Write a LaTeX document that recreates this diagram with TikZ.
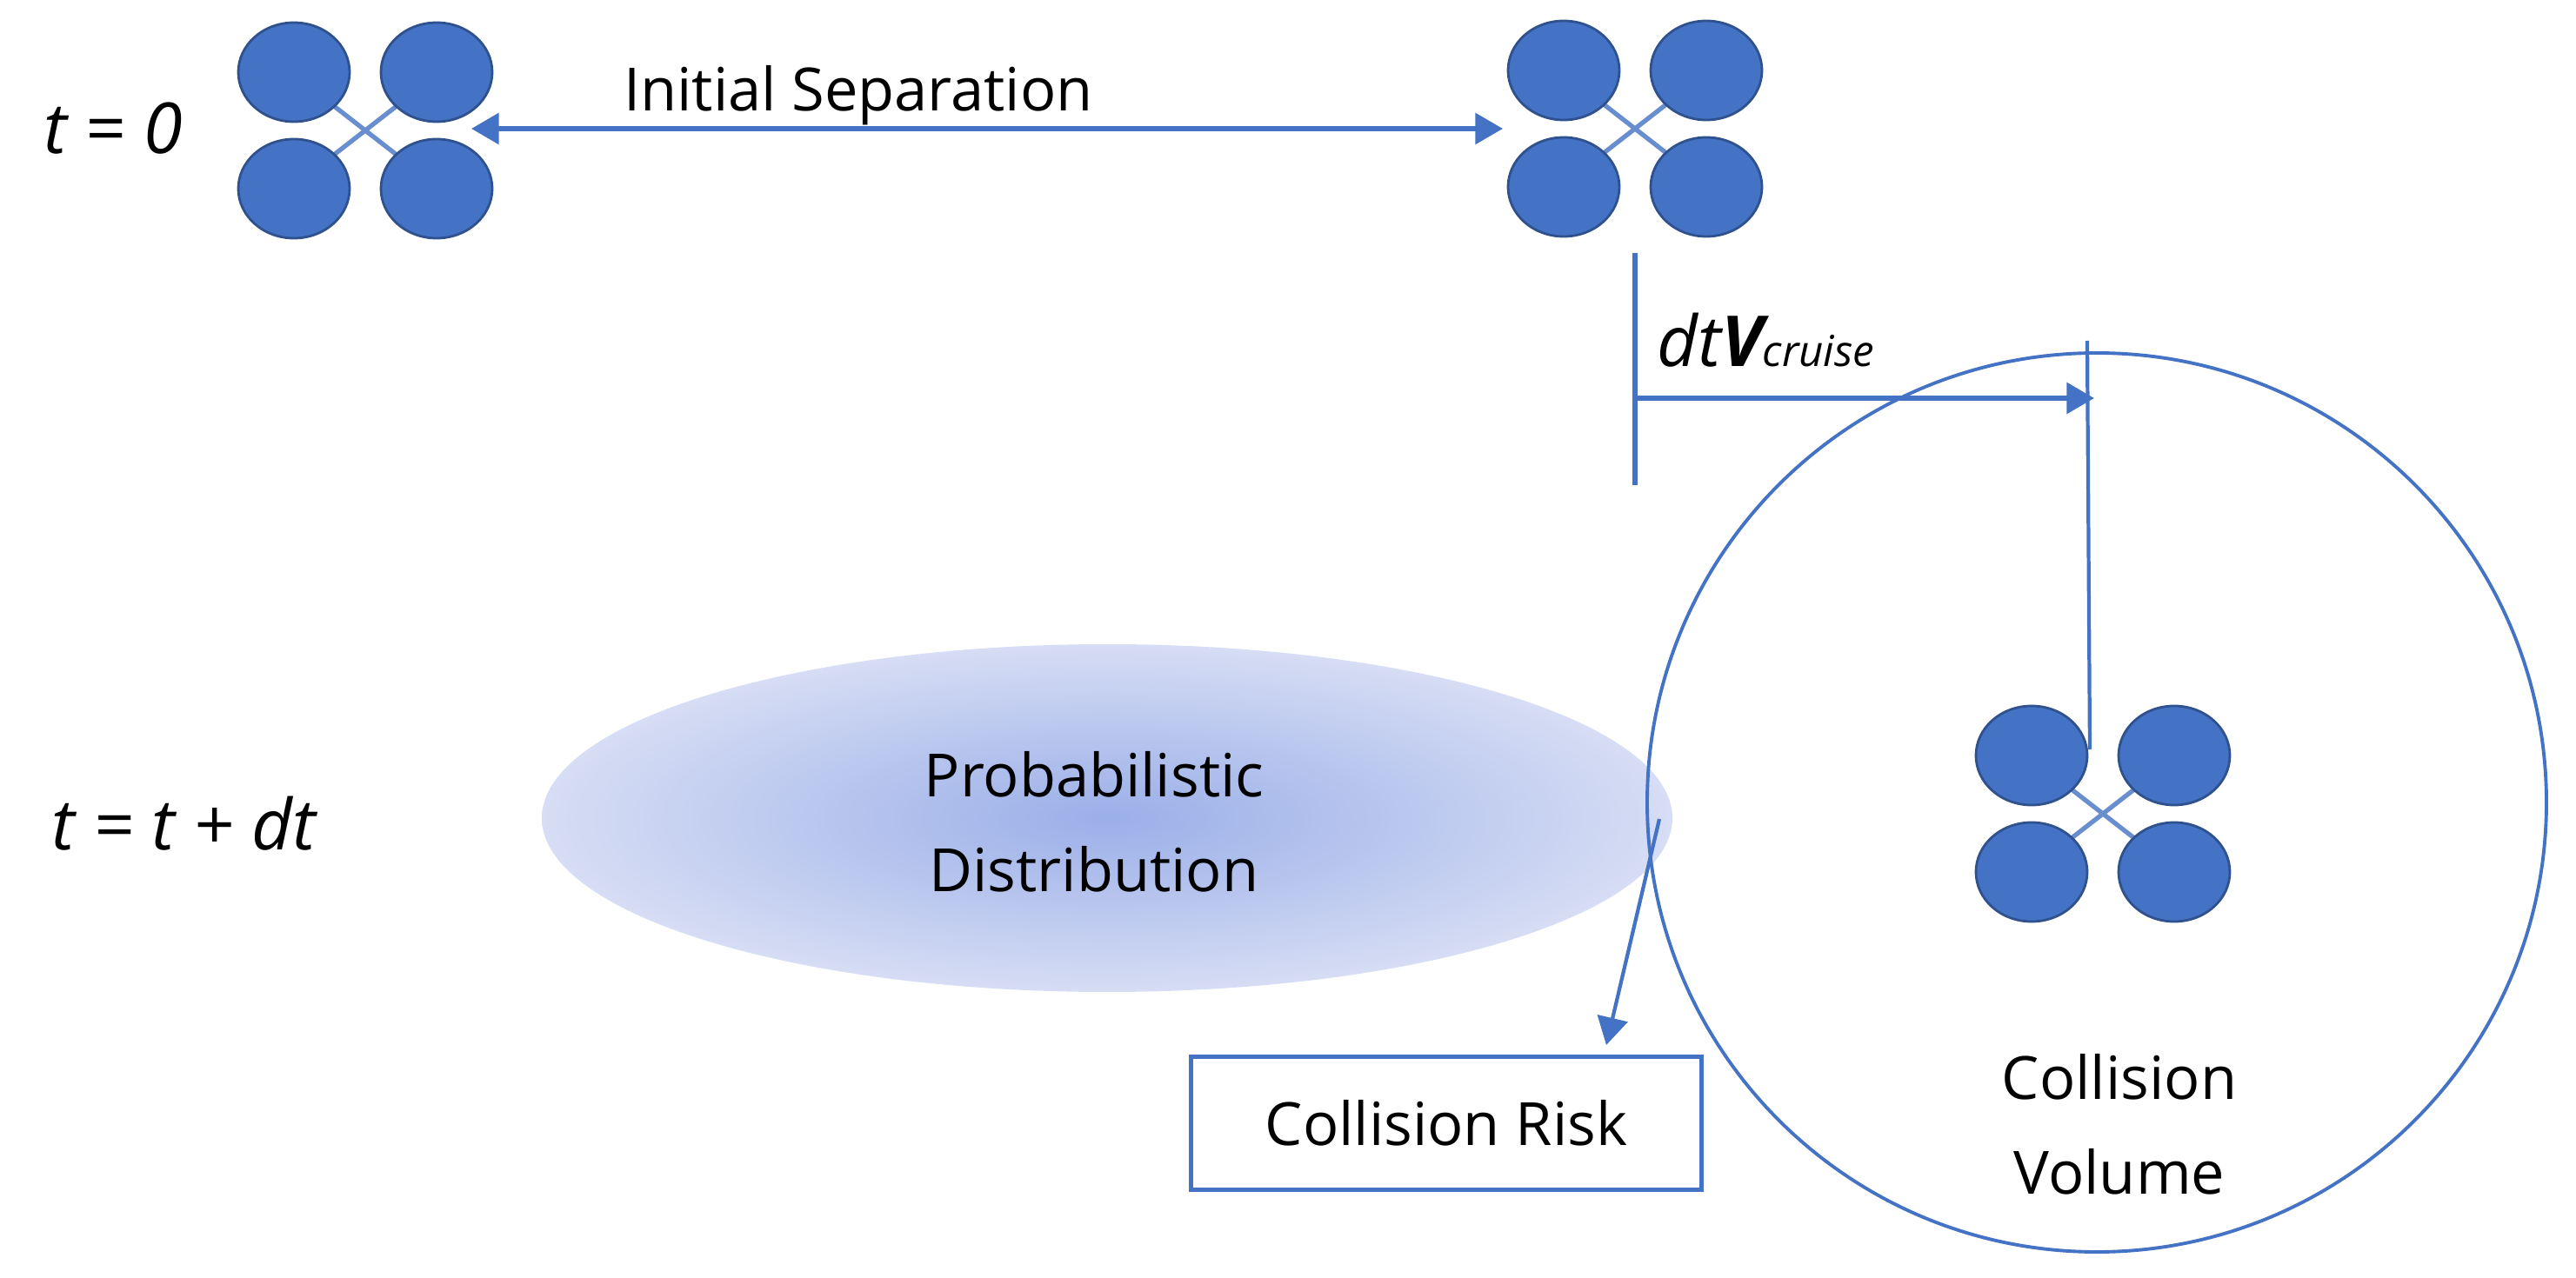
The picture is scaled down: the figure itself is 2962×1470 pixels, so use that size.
\documentclass[tikz,border=0pt]{standalone}
\usepackage{fontspec}
\setmainfont{Open Sans}
\usetikzlibrary{arrows.meta,shapes.geometric}
\definecolor{dblue}{HTML}{4472C4}
\definecolor{dedge}{HTML}{2F528F}
\definecolor{shin}{HTML}{9BAFE8}
\definecolor{shout}{HTML}{D6DDF4}
\tikzset{
  x=0.01cm,y=-0.01cm,
  lbl/.style={font=\fontsize{19.5}{23}\selectfont, text=black, inner sep=0pt},
  conn/.style={draw=dblue, line width=1.6pt},
  tip/.style={-{Triangle[width=10pt,length=9pt]}},
  rotor/.style={fill=dblue, draw=dedge, line width=0.8pt},
  pics/drone/.style={code={
    \draw[dblue!80, line width=1.5pt] (-45,-35) -- (45,35) (45,-35) -- (-45,35);
    \foreach \sx in {-1,1}{\foreach \sy in {-1,1}{
      \draw[rotor] (\sx*82,\sy*67) ellipse [x radius=64, y radius=57];}}
  }}
}
\begin{document}
\begin{tikzpicture}
\useasboundingbox (0,0) rectangle (2962,1470);
% probabilistic distribution
\shade[inner color=shin, outer color=shout] (1273,941) ellipse [x radius=650, y radius=200];
\node[lbl, align=center] (pd) at (1258,945) {Probabilistic\\[8pt]Distribution};
% collision volume
\draw[dblue, line width=1.1pt] (2411,923) circle [radius=517];
\node[lbl, align=center] (cvl) at (2437,1293) {Collision\\[8pt]Volume};
% drones
\pic at (420,150) {drone};
\pic at (1880,148) {drone};
\pic at (2418,936) {drone};
\coordinate (d1r) at (542,148);
\coordinate (d2l) at (1728,148);
\draw[conn, {Triangle[width=10pt,length=9pt]}-{Triangle[width=10pt,length=9pt]}] (d1r) -- (d2l);
\node[lbl] (is) at (987,110) {Initial Separation};
\node[lbl, font=\fontsize{23}{27}\selectfont\itshape] (t0) at (130,148) {t = 0};
\node[lbl, font=\fontsize{23}{27}\selectfont\itshape] (t1) at (211,947) {t = t + dt};
% dt V cruise
\coordinate (va) at (1880,291);
\coordinate (vb) at (1880,558);
\draw[conn] (va) -- (vb);
\coordinate (ha) at (1880,458);
\coordinate (hb) at (2408,458);
\draw[conn, tip] (ha) -- (hb);
\coordinate (ta) at (2400,392);
\coordinate (tb) at (2403,862);
\draw[conn, line width=1.2pt] (ta) -- (tb);
\node[lbl, anchor=base west, font=\fontsize{23}{27}\selectfont\itshape] (dtv) at (1905,422) {dt\textbf{V}\fontsize{14}{17}\selectfont cruise};
% collision risk
\node[draw=dblue, line width=1.4pt, minimum width=5.87cm, minimum height=1.53cm, font=\fontsize{19.5}{23}\selectfont] (cr) at (1663,1292) {Collision Risk};
\coordinate (ea) at (1908,942);
\coordinate (eb) at (1847,1202);
\draw[conn, line width=1.2pt, tip] (ea) -- (eb);
\end{tikzpicture}
\end{document}
